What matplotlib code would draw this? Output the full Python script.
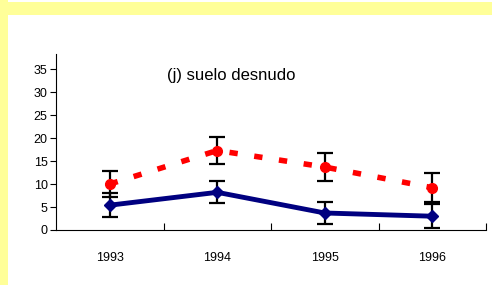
import matplotlib.pyplot as plt
from matplotlib.patches import Rectangle

plt.rcParams['font.family'] = ['Liberation Sans', 'DejaVu Sans']

years = ['1993', '1994', '1995', '1996']
red_values = [10.0, 17.3, 13.7, 9.2]
red_errors = [2.9, 3.0, 3.0, 3.2]
blue_values = [5.4, 8.2, 3.7, 3.0]
blue_errors = [2.6, 2.4, 2.3, 2.6]
y_ticks = [0, 5, 10, 15, 20, 25, 30, 35]

fig = plt.figure(figsize=(4.92, 2.85), dpi=100)
fig.patch.set_facecolor('white')

# yellow frame pieces (top band and left strip)
fig.patches.append(Rectangle((0, 1 - 15 / 285), 1, 13 / 285, transform=fig.transFigure,
                             facecolor='#FFFF99', edgecolor='none', zorder=0))
fig.patches.append(Rectangle((0, 0), 8 / 492, 1, transform=fig.transFigure,
                             facecolor='#FFFF99', edgecolor='none', zorder=0))

ax = fig.add_axes([56 / 492, 1 - 230 / 285, 430 / 492, 176 / 285])
x = list(range(len(years)))

ax.errorbar(x, red_values, yerr=red_errors, color='#FF0000', linestyle=(0, (1.5, 3.0)),
            linewidth=4, marker='o', markersize=7, ecolor='black', elinewidth=1.6,
            capsize=6, capthick=1.6, zorder=3)
ax.errorbar(x, blue_values, yerr=blue_errors, color='#000080', linestyle='-',
            linewidth=3.5, marker='D', markersize=6, ecolor='black', elinewidth=1.6,
            capsize=6, capthick=1.6, zorder=4)

ax.set_xlim(-0.5, len(years) - 0.5)
ax.set_ylim(0, 38.3)
ax.set_yticks(y_ticks)
ax.set_yticklabels([str(t) for t in y_ticks], fontsize=9)
ax.set_xticks([i + 0.5 for i in x])
ax.set_xticklabels([])
ax.set_xticks(x, minor=True)
ax.set_xticklabels(years, minor=True, fontsize=9)
ax.tick_params(axis='x', which='minor', length=0, pad=16)
ax.tick_params(axis='x', which='major', length=5, direction='in', width=0.8)
ax.tick_params(axis='y', length=4, direction='out', width=0.8, pad=2)

for side in ['top', 'right']:
    ax.spines[side].set_visible(False)

ax.text(0.408, 0.88, '(j) suelo desnudo', transform=ax.transAxes, fontsize=12,
        ha='center', va='center')

fig.savefig('out.png', dpi=100)
